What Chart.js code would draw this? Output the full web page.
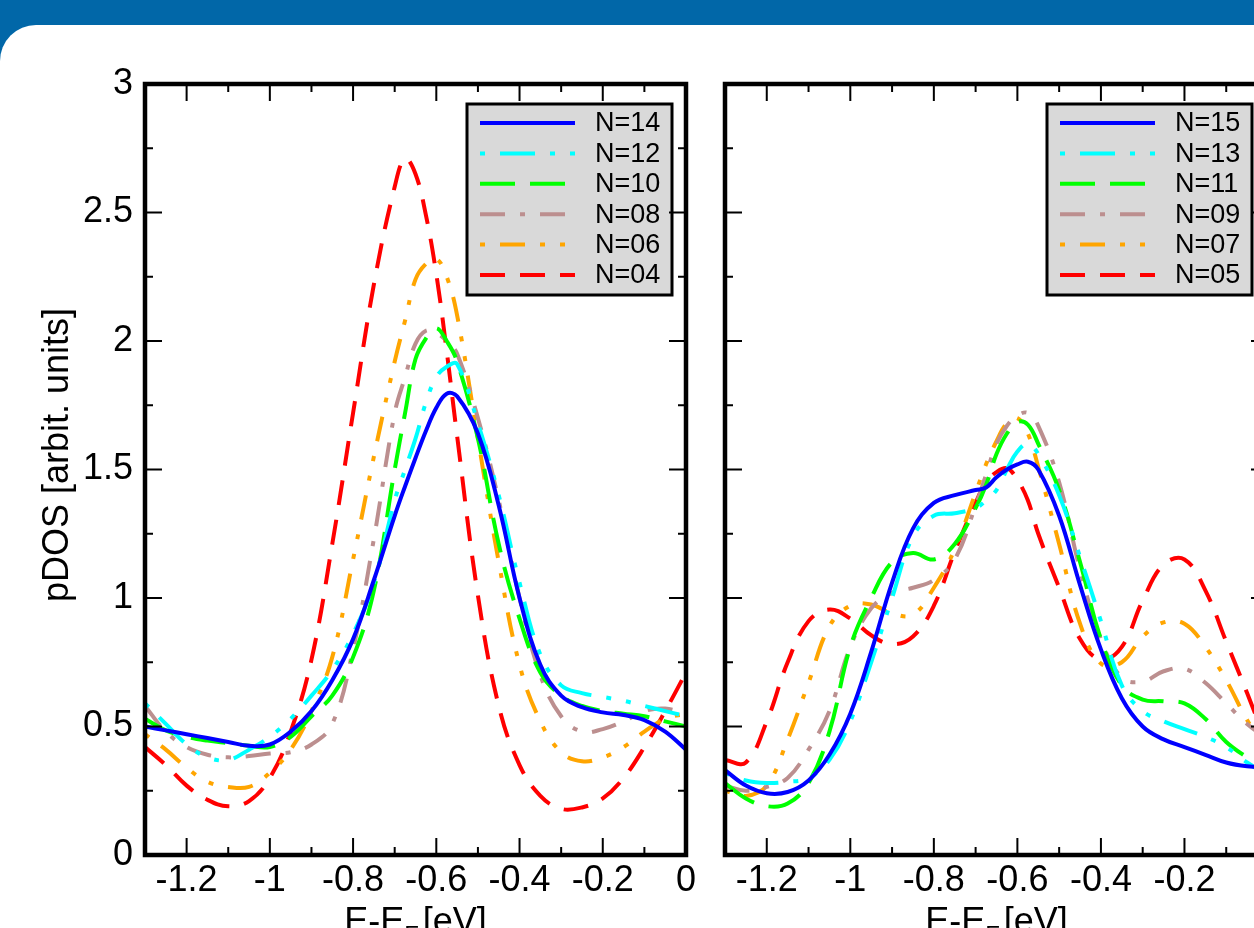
<!DOCTYPE html>
<html>
<head>
<meta charset="utf-8">
<title>pDOS</title>
<script src="https://cdn.jsdelivr.net/npm/chart.js@4.4.1/dist/chart.umd.min.js"></script>
<style>
	html, body { margin:0; padding:0; width:1254px; height:928px; overflow:hidden; background:#0167a8; }
	#page { position:absolute; left:0; top:25px; width:1254px; height:903px; background:#fff; border-top-left-radius:36px; }
	canvas { position:absolute; top:0; }
	#pdos-left { left:0; }
	#pdos-right { left:705px; }
</style>
</head>
<body>
<div id="page"></div>
<canvas id="pdos-left" width="705" height="928"></canvas>
<canvas id="pdos-right" width="600" height="928"></canvas>
<script>
// E - E_F grid (eV)
var energy = [-1.3,-1.25,-1.2,-1.15,-1.1,-1.05,-1.0,-0.95,-0.9,-0.85,-0.8,-0.75,-0.7,-0.675,-0.65,-0.625,-0.6,-0.575,-0.55,-0.5,-0.45,-0.4,-0.35,-0.3,-0.25,-0.2,-0.15,-0.1,-0.05,0];

// tick labels
var xMajor = [-1.2, -1, -0.8, -0.6, -0.4, -0.2, 0];
var yMajor = [0, 0.5, 1, 1.5, 2, 2.5, 3];

// left panel (even N)
var leftLabels = ['N=14', 'N=12', 'N=10', 'N=08', 'N=06', 'N=04'];
var n14 = [0.50,0.485,0.47,0.455,0.44,0.425,0.43,0.48,0.56,0.68,0.84,1.07,1.32,1.435,1.545,1.65,1.74,1.795,1.785,1.64,1.36,1.00,0.74,0.62,0.575,0.555,0.545,0.525,0.48,0.41];
var n12 = [0.59,0.51,0.43,0.38,0.37,0.41,0.46,0.53,0.62,0.72,0.86,1.06,1.38,1.50,1.62,1.76,1.86,1.90,1.91,1.68,1.40,1.06,0.78,0.66,0.63,0.615,0.60,0.58,0.56,0.54];
var n10 = [0.53,0.485,0.46,0.445,0.435,0.425,0.42,0.46,0.54,0.62,0.77,1.03,1.50,1.72,1.93,2.01,2.05,2.00,1.92,1.62,1.21,0.92,0.71,0.62,0.58,0.56,0.55,0.54,0.52,0.50];
var n08 = [0.58,0.48,0.42,0.39,0.38,0.385,0.395,0.40,0.43,0.51,0.80,1.23,1.72,1.86,1.99,2.04,2.03,2.00,1.95,1.70,1.38,1.00,0.70,0.54,0.48,0.49,0.52,0.56,0.57,0.55];
var n06 = [0.47,0.41,0.34,0.285,0.265,0.265,0.32,0.41,0.56,0.77,1.15,1.55,1.92,2.08,2.24,2.30,2.32,2.25,2.10,1.62,1.14,0.74,0.52,0.40,0.365,0.38,0.42,0.48,0.53,0.55];
var n04 = [0.42,0.35,0.27,0.215,0.19,0.21,0.30,0.48,0.76,1.21,1.72,2.22,2.60,2.71,2.65,2.49,2.26,1.96,1.63,1.01,0.58,0.35,0.23,0.18,0.185,0.22,0.30,0.42,0.56,0.71];

// right panel (odd N)
var rightLabels = ['N=15', 'N=13', 'N=11', 'N=09', 'N=07', 'N=05'];
var n15 = [0.33,0.27,0.24,0.245,0.29,0.39,0.55,0.79,1.06,1.27,1.37,1.40,1.42,1.43,1.47,1.50,1.52,1.53,1.50,1.32,1.05,0.80,0.61,0.50,0.45,0.42,0.39,0.36,0.345,0.34];
var n13 = [0.32,0.29,0.28,0.285,0.30,0.37,0.52,0.75,1.00,1.24,1.32,1.33,1.35,1.38,1.42,1.50,1.57,1.60,1.56,1.40,1.16,0.91,0.66,0.56,0.52,0.49,0.46,0.42,0.36,0.31];
var n11 = [0.28,0.22,0.19,0.20,0.28,0.48,0.81,1.00,1.14,1.175,1.15,1.21,1.35,1.44,1.56,1.64,1.685,1.675,1.60,1.42,1.14,0.84,0.66,0.605,0.598,0.59,0.53,0.44,0.38,0.33];
var n09 = [0.27,0.25,0.265,0.30,0.41,0.56,0.81,0.96,1.02,1.04,1.07,1.15,1.36,1.48,1.60,1.67,1.71,1.72,1.67,1.45,1.11,0.84,0.69,0.675,0.715,0.725,0.67,0.59,0.51,0.45];
var n07 = [0.25,0.23,0.27,0.45,0.67,0.89,0.97,0.975,0.94,0.935,1.04,1.19,1.41,1.52,1.61,1.68,1.70,1.64,1.51,1.21,0.90,0.745,0.75,0.85,0.905,0.90,0.81,0.68,0.525,0.40];
var n05 = [0.37,0.36,0.52,0.75,0.91,0.955,0.92,0.855,0.82,0.85,0.97,1.18,1.37,1.45,1.49,1.505,1.46,1.38,1.25,1.04,0.84,0.76,0.81,0.99,1.13,1.15,1.03,0.83,0.63,0.42];

/* xmgrace colours */
var blue = '#0000ff';
var cyan = '#00ffff';
var green = '#00ff00';
var brown = '#bc8f8f';
var orange = '#ffa500';
var red = '#ff0000';

/* line styles */
var solid = [];
var dotDashDot = [5, 15, 35, 15, 5, 15];
var longDash = [35, 15];
var dashDot = [25, 15, 5, 15];
var dotDashDotShort = [5, 15, 25, 15, 5, 15];
var shortDash = [25, 15];

var fontFamily = '"Liberation Sans", Arial, Helvetica, sans-serif';
Chart.defaults.font.family = fontFamily;
Chart.defaults.color = '#000';

function makeSet(label, values, color, dash) {
	return {
		label: label,
		data: energy.map(function(e, i) { return {x: e, y: values[i]}; }),
		borderColor: color,
		borderDash: dash,
		borderWidth: 4,
		borderCapStyle: 'butt',
		pointRadius: 0,
		fill: false,
		tension: 0.4
	};
}

function isMajor(list, v) {
	for (var i = 0; i < list.length; i++) {
		if (Math.abs(list[i] - v) < 1e-6) return true;
	}
	return false;
}

// frame, inward ticks, legend box and axis titles like the xmgrace plot
function makeDecor(showYTitle) {
	return {
		id: 'decor',
		afterDatasetsDraw: function(chart) {
			var ctx = chart.ctx, a = chart.chartArea;
			var sx = chart.scales.x, sy = chart.scales.y;
			var i, p, len, v;

			// legend
			var bx = a.left + 322, by = a.top + 20, bw = 205, bh = 191;
			ctx.save();
			ctx.fillStyle = '#d9d9d9';
			ctx.fillRect(bx, by, bw, bh);
			ctx.lineWidth = 3;
			ctx.strokeStyle = '#000';
			ctx.strokeRect(bx, by, bw, bh);
			ctx.font = '27px ' + fontFamily;
			ctx.textBaseline = 'middle';
			chart.data.datasets.forEach(function(ds, k) {
				var ry = by + 19 + k * 30.4;
				ctx.setLineDash(ds.borderDash);
				ctx.lineCap = 'butt';
				ctx.lineWidth = 4;
				ctx.strokeStyle = ds.borderColor;
				ctx.beginPath();
				ctx.moveTo(bx + 13, ry);
				ctx.lineTo(bx + 108, ry);
				ctx.stroke();
				ctx.setLineDash([]);
				ctx.fillStyle = '#000';
				ctx.fillText(ds.label, bx + 128, ry + 1);
			});
			ctx.restore();

			// ticks
			ctx.save();
			ctx.strokeStyle = '#000';
			ctx.lineWidth = 2;
			ctx.beginPath();
			for (i = -13; i <= 0; i++) {
				v = i / 10;
				p = sx.getPixelForValue(v);
				len = isMajor(xMajor, v) ? 17 : 8;
				ctx.moveTo(p, a.bottom); ctx.lineTo(p, a.bottom - len);
				ctx.moveTo(p, a.top); ctx.lineTo(p, a.top + len);
			}
			for (i = 0; i <= 12; i++) {
				v = i / 4;
				p = sy.getPixelForValue(v);
				len = isMajor(yMajor, v) ? 17 : 8;
				ctx.moveTo(a.left, p); ctx.lineTo(a.left + len, p);
				ctx.moveTo(a.right, p); ctx.lineTo(a.right - len, p);
			}
			ctx.stroke();
			ctx.lineWidth = 4.5;
			ctx.strokeRect(a.left, a.top, a.width, a.height);

			// x title  E-E_F [eV]
			ctx.fillStyle = '#000';
			ctx.textBaseline = 'alphabetic';
			ctx.font = '36px ' + fontFamily;
			var t1 = 'E-E', t3 = '[eV]';
			var w1 = ctx.measureText(t1).width, w3 = ctx.measureText(t3).width;
			ctx.font = '24px ' + fontFamily;
			var w2 = ctx.measureText('F').width;
			var x0 = (a.left + a.right) / 2 - (w1 + w2 + 4 + w3) / 2;
			var base = 933;
			ctx.font = '36px ' + fontFamily;
			ctx.fillText(t1, x0, base);
			ctx.fillText(t3, x0 + w1 + w2 + 4, base);
			ctx.font = '24px ' + fontFamily;
			ctx.fillText('F', x0 + w1, base + 10);

			// y title
			if (showYTitle) {
				ctx.save();
				ctx.translate(58, 455);
				ctx.rotate(-Math.PI / 2);
				ctx.font = '36px ' + fontFamily;
				ctx.textAlign = 'center';
				ctx.textBaseline = 'middle';
				ctx.fillText('pDOS [arbit. units]', 0, 0);
				ctx.restore();
			}
			ctx.restore();
		}
	};
}

function makeOptions(yWidth, padRight, showYLabels) {
	return {
		responsive: false,
		animation: false,
		layout: { padding: { top: 84, right: padRight, left: 0, bottom: 0 } },
		plugins: { legend: { display: false }, tooltip: { enabled: false } },
		scales: {
			x: {
				type: 'linear',
				min: -1.3,
				max: 0,
				grid: { display: false, drawTicks: false },
				border: { display: false },
				ticks: {
					stepSize: 0.1,
					autoSkip: false,
					maxRotation: 0,
					padding: 4,
					font: { size: 36 },
					callback: function(v) {
						return isMajor(xMajor, v) ? String(Math.round(v * 10) / 10) : '';
					}
				},
				afterFit: function(scale) { scale.height = 73; }
			},
			y: {
				min: 0,
				max: 3,
				grid: { display: false, drawTicks: false },
				border: { display: false },
				ticks: {
					stepSize: 0.25,
					padding: 12,
					font: { size: 36 },
					callback: function(v) {
						if (!showYLabels) return '';
						return isMajor(yMajor, v) ? String(Math.round(v * 4) / 4) : '';
					}
				},
				afterFit: function(scale) { scale.width = yWidth; }
			}
		}
	};
}

new Chart(document.getElementById('pdos-left'), {
	type: 'line',
	data: {
		datasets: [
			makeSet(leftLabels[0], n14, blue, solid),
			makeSet(leftLabels[1], n12, cyan, dotDashDot),
			makeSet(leftLabels[2], n10, green, longDash),
			makeSet(leftLabels[3], n08, brown, dashDot),
			makeSet(leftLabels[4], n06, orange, dotDashDotShort),
			makeSet(leftLabels[5], n04, red, shortDash)
		]
	},
	options: makeOptions(145, 19, true),
	plugins: [makeDecor(true)]
});

new Chart(document.getElementById('pdos-right'), {
	type: 'line',
	data: {
		datasets: [
			makeSet(rightLabels[0], n15, blue, solid),
			makeSet(rightLabels[1], n13, cyan, dotDashDot),
			makeSet(rightLabels[2], n11, green, longDash),
			makeSet(rightLabels[3], n09, brown, dashDot),
			makeSet(rightLabels[4], n07, orange, dotDashDotShort),
			makeSet(rightLabels[5], n05, red, shortDash)
		]
	},
	options: makeOptions(20, 37, false),
	plugins: [makeDecor(false)]
});
</script>
</body>
</html>
